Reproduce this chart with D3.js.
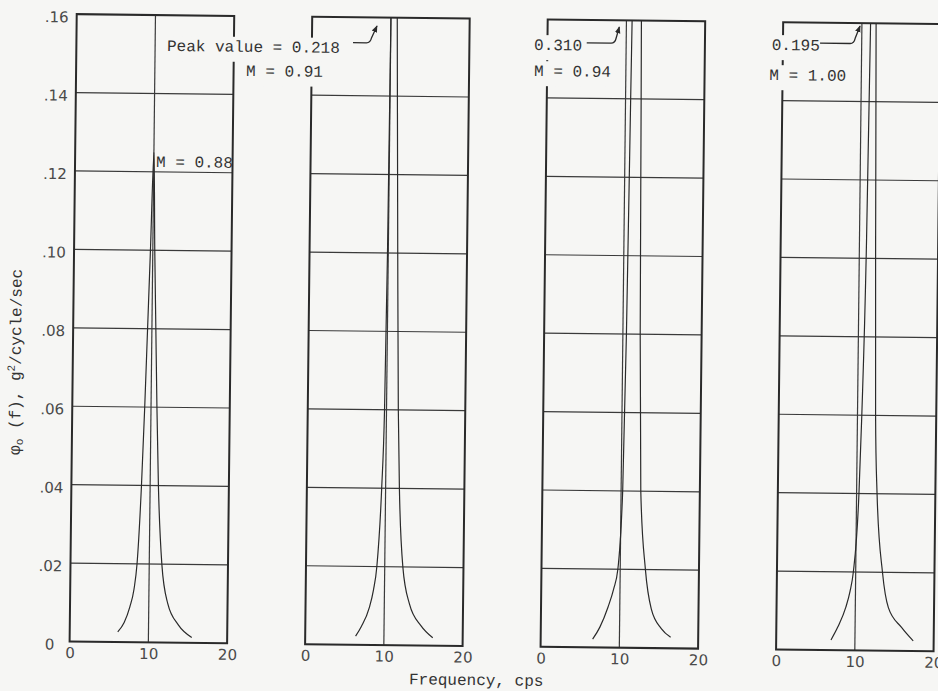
<!DOCTYPE html>
<html>
<head>
<meta charset="utf-8">
<script src="https://cdn.jsdelivr.net/npm/d3@7"></script>
<style>
	body { margin: 0; background: #f6f6f4; }
	svg { display: block; }
	.frame { fill: none; stroke: #2a2a2a; stroke-width: 2; }
	.grid line { stroke: #3a3a3a; stroke-width: 1.2; }
	.curve { fill: none; stroke: #2a2a2a; stroke-width: 1.2; }
	.tick text { font-family: "DejaVu Sans", sans-serif; font-size: 15px; fill: #4a4a4a; }
	.note { font-family: "Liberation Mono", monospace; font-size: 16px; fill: #333; }
	.leader { fill: none; stroke: #2a2a2a; stroke-width: 1.3; }
</style>
</head>
<body>
<div id="chart"></div>
<script>

// tick values and labels
var frequencyTicks = [0, 10, 20];
var densityTicks = [0, 0.02, 0.04, 0.06, 0.08, 0.10, 0.12, 0.14, 0.16];
var densityTickLabels = ["0", ".02", ".04", ".06", ".08", ".10", ".12", ".14", ".16"];

// one panel per Mach number
var machNumbers = ["0.88", "0.91", "0.94", "1.00"];
var peakLabels = [null, "Peak value = 0.218", "0.310", "0.195"];

// spectra: [frequency (cps), phi_o (g^2/cycle/sec)]
var spectrumM088 = [[6.1, 0.0026], [6.9, 0.005], [7.6, 0.009], [8.1, 0.0135], [8.45, 0.02], [8.9, 0.04], [9.2, 0.06],
	[9.45, 0.08], [9.7, 0.10], [10.0, 0.125], [10.25, 0.10], [10.5, 0.08], [10.75, 0.06], [11.05, 0.04],
	[11.6, 0.02], [12.4, 0.010], [13.8, 0.0045], [15.5, 0.0014]];
var spectrumM091 = [[6.4, 0.0022], [7.1, 0.0046], [8.1, 0.0095], [8.6, 0.014], [9.0, 0.02], [9.5, 0.04], [9.75, 0.06],
	[9.9, 0.10], [10.0, 0.16], [10.4, 0.218], [10.8, 0.16], [11.2, 0.10], [11.5, 0.06], [11.75, 0.04],
	[12.3, 0.02], [13.2, 0.0105], [14.7, 0.005], [16.2, 0.002]];
var spectrumM094 = [[6.6, 0.0021], [7.5, 0.0052], [8.5, 0.0103], [9.2, 0.015], [9.7, 0.02], [10.2, 0.04], [10.45, 0.08],
	[10.65, 0.14], [10.72, 0.16], [11.3, 0.310], [11.9, 0.16], [11.98, 0.14], [12.2, 0.08], [12.5, 0.04],
	[13.2, 0.02], [14.0, 0.010], [15.3, 0.005], [16.5, 0.0028]];
var spectrumM100 = [[6.96, 0.0026], [7.8, 0.0059], [8.8, 0.011], [9.3, 0.015], [9.7, 0.02], [10.3, 0.04], [10.55, 0.06],
	[10.9, 0.105], [11.1, 0.16], [11.45, 0.195], [11.8, 0.16], [12.05, 0.105], [12.3, 0.06], [12.6, 0.04],
	[13.4, 0.02], [14.2, 0.011], [15.9, 0.006], [17.4, 0.0026]];

var spectra = [spectrumM088, spectrumM091, spectrumM094, spectrumM100];

var chart = function() {

	var width = 938, height = 691,
		top = 18.6, bottom = 646,
		firstLeft = 73, panelWidth = 157.5, panelStep = 235.5,
		paper = "#f6f6f4";

	var svg = d3.select("#chart").append("svg")
		.attr("width", width)
		.attr("height", height);

	svg.append("rect")
		.attr("width", width)
		.attr("height", height)
		.attr("fill", paper);

	// the scanned sheet sits a little crooked
	var page = svg.append("g")
		.attr("transform", "rotate(0.65,469,345)");

	var defs = svg.append("defs");
	defs.append("marker")
		.attr("id", "arrow")
		.attr("viewBox", "0 0 10 10")
		.attr("refX", 9).attr("refY", 5)
		.attr("markerWidth", 7).attr("markerHeight", 7)
		.attr("markerUnits", "userSpaceOnUse")
		.attr("orient", "auto")
		.append("path")
		.attr("d", "M0,1 L10,5 L0,9 Z")
		.attr("fill", "#2a2a2a");

	spectra.forEach(function(points, i) {

		var left = firstLeft + i * panelStep;

		var x = d3.scaleLinear().domain([0, 20]).range([left, left + panelWidth]);
		var y = d3.scaleLinear().domain([0, 0.16]).range([bottom, top]);

		var g = page.append("g").attr("class", "panel");

		defs.append("clipPath")
			.attr("id", "clip" + i)
			.append("rect")
			.attr("x", x(0)).attr("y", y(0.16))
			.attr("width", x(20) - x(0))
			.attr("height", y(0) - y(0.16));

		// grid
		var grid = g.append("g").attr("class", "grid");
		grid.selectAll("line.h")
			.data(densityTicks.slice(1, -1))
			.enter().append("line")
			.attr("class", "h")
			.attr("x1", x(0)).attr("x2", x(20))
			.attr("y1", function(d) { return y(d); })
			.attr("y2", function(d) { return y(d); });
		grid.append("line")
			.attr("x1", x(10)).attr("x2", x(10))
			.attr("y1", y(0)).attr("y2", y(0.16));

		// spectrum
		g.append("path")
			.datum(points)
			.attr("class", "curve")
			.attr("clip-path", "url(#clip" + i + ")")
			.attr("d", d3.line()
				.x(function(d) { return x(d[0]); })
				.y(function(d) { return y(d[1]); })
				.curve(d3.curveMonotoneX));

		// frame
		g.append("rect")
			.attr("class", "frame")
			.attr("x", x(0)).attr("y", y(0.16))
			.attr("width", x(20) - x(0))
			.attr("height", y(0) - y(0.16));

		// x axis labels
		var xAxis = d3.axisBottom(x)
			.tickValues(frequencyTicks)
			.tickFormat(d3.format("d"))
			.tickSize(0)
			.tickPadding(6);
		g.append("g")
			.attr("transform", "translate(0," + y(0) + ")")
			.call(xAxis)
			.call(function(sel) { sel.select(".domain").remove(); })
			.attr("font-family", null).attr("font-size", null);

		// y axis labels only on the first panel
		if (i === 0) {
			var yAxis = d3.axisLeft(y)
				.tickValues(densityTicks)
				.tickFormat(function(d, k) { return densityTickLabels[k]; })
				.tickSize(0);
			g.append("g")
				.attr("transform", "translate(" + x(0) + ",0)")
				.call(yAxis)
				.call(function(sel) { sel.select(".domain").remove(); })
				.attr("font-family", null).attr("font-size", null)
				.selectAll("text")
				.attr("text-anchor", "middle")
				.attr("x", -20)
				.attr("dy", "0.52em");
		}
	});

	// annotations (drawn last so their background breaks the frame lines)
	var notes = page.append("g");

	var addNote = function(str, px, py, blank) {
		var t = notes.append("text")
			.attr("class", "note")
			.attr("x", px).attr("y", py)
			.text(str);
		if (blank) {
			var b = t.node().getBBox();
			notes.insert("rect", function() { return t.node(); })
				.attr("x", b.x - 3).attr("y", b.y - 2)
				.attr("width", b.width + 6).attr("height", b.height + 7)
				.attr("fill", paper);
		}
	};

	var addLeader = function(x1, xc, tx, ty, yy) {
		notes.append("path")
			.attr("class", "leader")
			.attr("marker-end", "url(#arrow)")
			.attr("d", "M" + x1 + "," + yy + " L" + (xc - 4) + "," + yy +
				" Q" + xc + "," + yy + " " + (xc + 1) + "," + (yy - 5) +
				" L" + tx + "," + ty);
	};

	addNote("M = " + machNumbers[0], 154, 170.5, false);

	addNote(peakLabels[1], 163.7, 54.4, true);
	addNote("M = " + machNumbers[1], 243, 78.5, true);
	addLeader(349.6, 367, 373.4, 27, 44);

	addNote(peakLabels[2], 530.7, 49.3, true);
	addNote("M = " + machNumbers[2], 531, 75.3, true);
	addLeader(583.3, 611.6, 615.7, 25.3, 41.6);

	addNote(peakLabels[3], 768.4, 46.6, true);
	addNote("M = " + machNumbers[3], 766.3, 76.6, true);
	addLeader(816.6, 850.6, 856.4, 21.5, 39.2);

	// axis titles
	var yTitle = page.append("text")
		.attr("class", "note")
		.attr("text-anchor", "middle")
		.attr("transform", "translate(21,367)rotate(-90)");
	yTitle.append("tspan").text("\u03c6");
	yTitle.append("tspan").attr("font-size", "11px").attr("dy", 3).text("o");
	yTitle.append("tspan").attr("dy", -3).text(" (f), g");
	yTitle.append("tspan").attr("font-size", "11px").attr("dy", -6).text("2");
	yTitle.append("tspan").attr("dy", 6).text("/cycle/sec");

	page.append("text")
		.attr("class", "note")
		.attr("text-anchor", "middle")
		.attr("x", 480).attr("y", 685)
		.text("Frequency, cps");

};

chart();

</script>
</body>
</html>
